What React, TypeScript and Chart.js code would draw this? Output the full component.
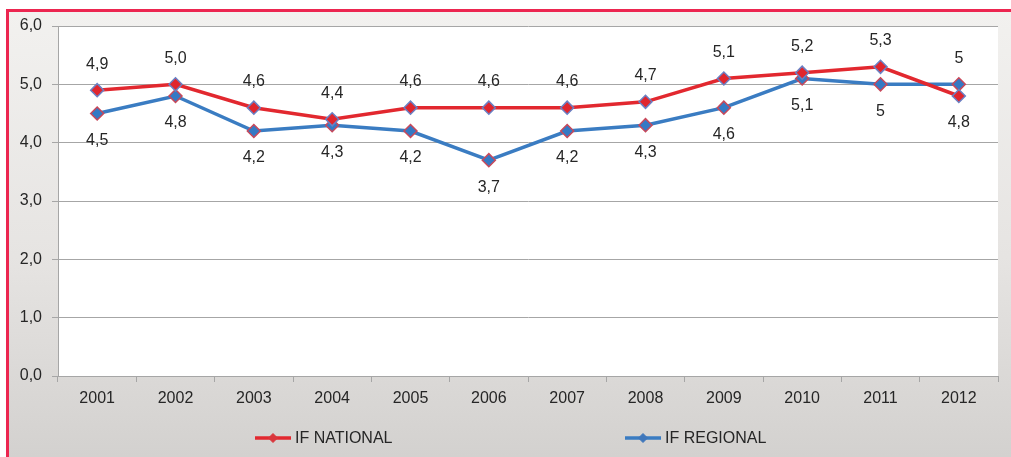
import React, { useEffect, useRef } from "react";
import { Chart, registerables } from "chart.js";

Chart.register(...registerables);

const years = ["2001", "2002", "2003", "2004", "2005", "2006", "2007", "2008", "2009", "2010", "2011", "2012"];
const ifNational = [4.9, 5.0, 4.6, 4.4, 4.6, 4.6, 4.6, 4.7, 5.1, 5.2, 5.3, 4.8];
const ifRegional = [4.5, 4.8, 4.2, 4.3, 4.2, 3.7, 4.2, 4.3, 4.6, 5.1, 5.0, 5.0];
const nationalLabels = ["4,9", "5,0", "4,6", "4,4", "4,6", "4,6", "4,6", "4,7", "5,1", "5,2", "5,3", "4,8"];
const regionalLabels = ["4,5", "4,8", "4,2", "4,3", "4,2", "3,7", "4,2", "4,3", "4,6", "5,1", "5", "5"];
const nationalLabelSide = ["above", "above", "above", "above", "above", "above", "above", "above", "above", "above", "above", "below"];
const regionalLabelSide = ["below", "below", "below", "below", "below", "below", "below", "below", "below", "below", "below", "above"];
const seriesNames = ["IF NATIONAL", "IF REGIONAL"];
const yMin = 0;
const yMax = 6;
const yStep = 1;

const RED = "#e2282f";
const BLUE = "#3a7cc2";
const FONT = "'Liberation Sans', Arial, sans-serif";
const TEXT = "#262626";

const labelsPlugin = {
  id: "valueLabels",
  afterDatasetsDraw(chart: any) {
    const ctx = chart.ctx;
    ctx.save();
    ctx.font = `16px ${FONT}`;
    ctx.fillStyle = TEXT;
    ctx.textAlign = "center";
    ctx.textBaseline = "middle";
    const sets = [
      { labels: nationalLabels, sides: nationalLabelSide },
      { labels: regionalLabels, sides: regionalLabelSide },
    ];
    sets.forEach((s, di) => {
      const meta = chart.getDatasetMeta(di);
      meta.data.forEach((pt: any, i: number) => {
        const dy = s.sides[i] === "above" ? -26 : 27;
        ctx.fillText(s.labels[i], pt.x, pt.y + dy);
      });
    });
    ctx.restore();
  },
};

const bgPlugin = {
  id: "plotBg",
  beforeDraw(chart: any) {
    const { ctx, chartArea } = chart;
    ctx.save();
    ctx.fillStyle = "#ffffff";
    ctx.fillRect(chartArea.left, chartArea.top, chartArea.right - chartArea.left, chartArea.bottom - chartArea.top);
    ctx.restore();
  },
};

function drawDiamond(ctx: CanvasRenderingContext2D, x: number, y: number, r: number, fill: string, stroke: string) {
  ctx.beginPath();
  ctx.moveTo(x, y - r);
  ctx.lineTo(x + r, y);
  ctx.lineTo(x, y + r);
  ctx.lineTo(x - r, y);
  ctx.closePath();
  ctx.fillStyle = fill;
  ctx.fill();
  ctx.lineWidth = 1;
  ctx.strokeStyle = stroke;
  ctx.stroke();
}

const legendPlugin = {
  id: "customLegend",
  afterDraw(chart: any) {
    const ctx = chart.ctx;
    const y = 426;
    const items = [
      { x: 246, color: RED, marker: "#d9363c", name: seriesNames[0] },
      { x: 616, color: BLUE, marker: "#3f77bb", name: seriesNames[1] },
    ];
    ctx.save();
    items.forEach((it) => {
      ctx.strokeStyle = it.color;
      ctx.lineWidth = 3.5;
      ctx.beginPath();
      ctx.moveTo(it.x, y);
      ctx.lineTo(it.x + 36, y);
      ctx.stroke();
      drawDiamond(ctx, it.x + 18, y, 4.5, it.marker, it.marker);
      ctx.font = `16px ${FONT}`;
      ctx.fillStyle = TEXT;
      ctx.textAlign = "left";
      ctx.textBaseline = "middle";
      ctx.fillText(it.name, it.x + 40, y + 1);
    });
    ctx.restore();
  },
};

export default function App() {
  const canvasRef = useRef<HTMLCanvasElement | null>(null);

  useEffect(() => {
    if (!canvasRef.current) return;
    const chart = new Chart(canvasRef.current, {
      type: "line",
      data: {
        labels: years,
        datasets: [
          {
            label: seriesNames[0],
            data: ifNational,
            borderColor: RED,
            backgroundColor: RED,
            borderWidth: 3.5,
            tension: 0,
            pointStyle: "rectRot",
            pointRadius: 6.5,
            pointBackgroundColor: "#e0262e",
            pointBorderColor: "#6a80c4",
            pointBorderWidth: 1.5,
          },
          {
            label: seriesNames[1],
            data: ifRegional,
            borderColor: BLUE,
            backgroundColor: BLUE,
            borderWidth: 3.5,
            tension: 0,
            pointStyle: "rectRot",
            pointRadius: 6.5,
            pointBackgroundColor: "#3479c4",
            pointBorderColor: "#c8485a",
            pointBorderWidth: 1.5,
          },
        ],
      },
      options: {
        responsive: false,
        animation: false,
        layout: { padding: { left: 0, right: 13, top: 14, bottom: 0 } },
        plugins: {
          legend: { display: false },
          tooltip: { enabled: false },
        },
        scales: {
          x: {
            offset: true,
            grid: {
              drawOnChartArea: false,
              offset: true,
              tickLength: 6,
              color: "#a6a6a6",
            },
            border: { color: "#a6a6a6" },
            ticks: {
              padding: 7,
              color: TEXT,
              font: { family: FONT, size: 16 },
              maxRotation: 0,
            },
            afterFit(scale: any) {
              scale.height = 81;
              scale.paddingLeft = 0;
              scale.paddingRight = 0;
            },
          },
          y: {
            min: yMin,
            max: yMax,
            grid: { color: "#a6a6a6", tickLength: 6 },
            border: { color: "#a6a6a6" },
            ticks: {
              stepSize: yStep,
              padding: 10,
              color: TEXT,
              font: { family: FONT, size: 16 },
              callback: (v: any) => Number(v).toFixed(1).replace(".", ","),
            },
            afterFit(scale: any) {
              scale.width = 49;
              scale.paddingTop = 0;
              scale.paddingBottom = 0;
            },
          },
        },
      },
      plugins: [bgPlugin, labelsPlugin, legendPlugin],
    });
    return () => chart.destroy();
  }, []);

  return (
    <div style={{ position: "absolute", left: 0, top: 0, width: 1011, height: 457, background: "#ffffff", overflow: "hidden" }}>
      <div
        style={{
          position: "absolute",
          left: 6,
          top: 9,
          width: 1005,
          height: 448,
          boxSizing: "border-box",
          borderLeft: "3px solid #ec2650",
          borderTop: "3px solid #ec2650",
          background: "linear-gradient(to bottom, #f2f1ef 0%, #e6e4e2 55%, #d3d1cf 100%)",
        }}
      >
        <canvas ref={canvasRef} width={1002} height={445} style={{ position: "absolute", left: 0, top: 0, width: 1002, height: 445 }} />
      </div>
    </div>
  );
}
